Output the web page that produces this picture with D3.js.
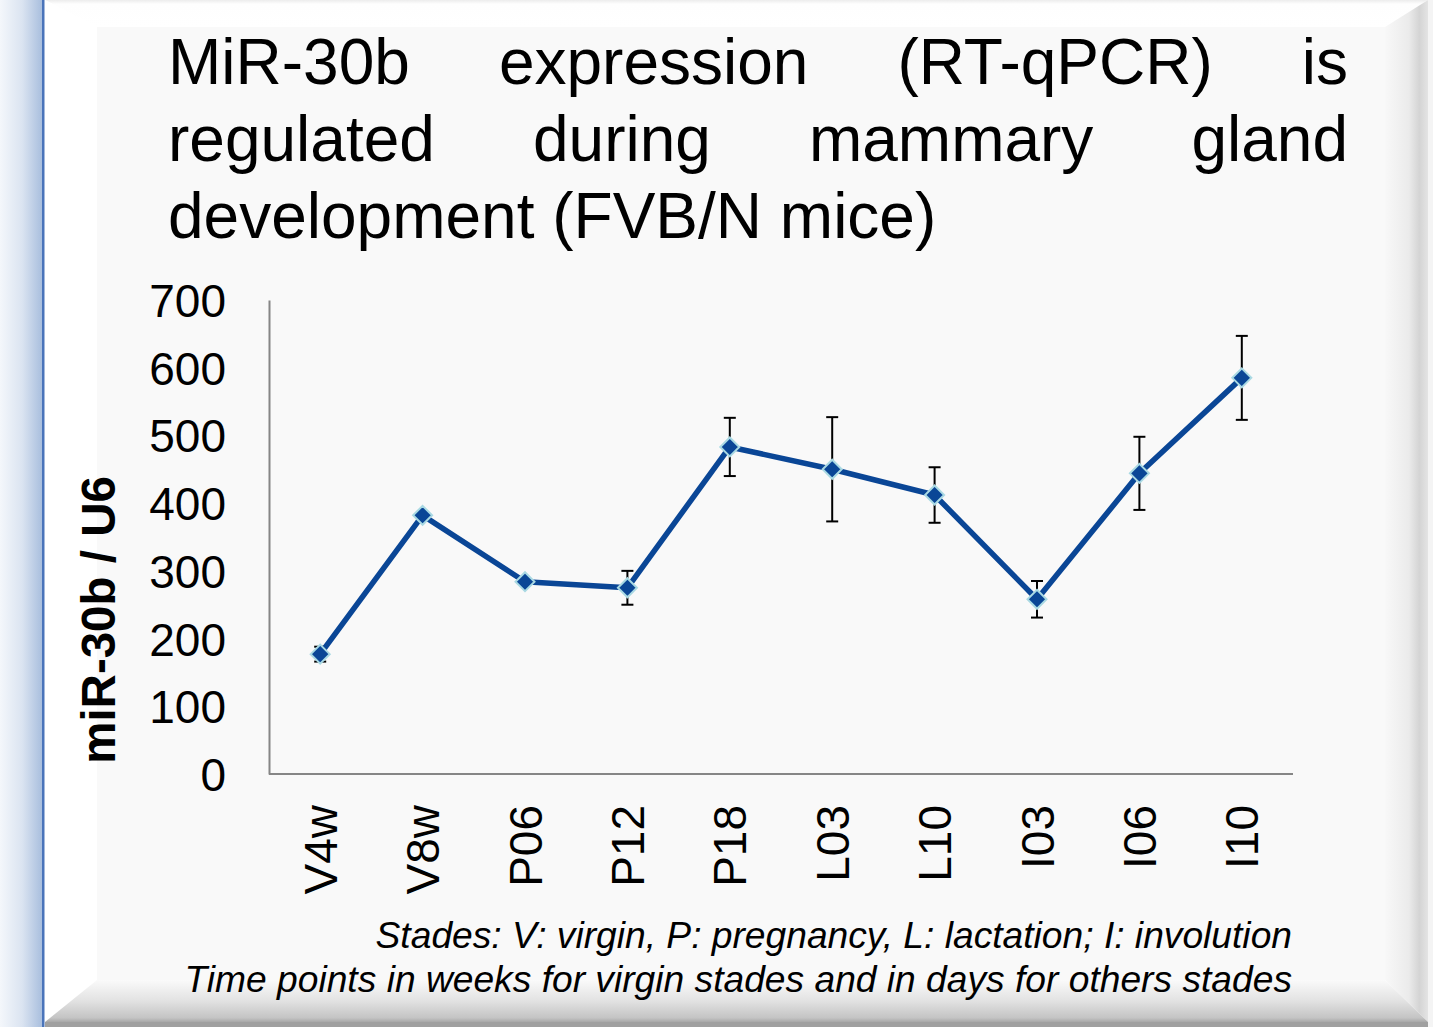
<!DOCTYPE html>
<html><head><meta charset="utf-8">
<script src="https://cdn.jsdelivr.net/npm/d3@7"></script>
<style>html,body{margin:0;padding:0;background:#fff;}svg{display:block;font-family:"Liberation Sans",Arial,sans-serif;}</style>
</head><body>
<svg id="c" width="1433" height="1027"></svg>
<script>
const categories = ["V4w","V8w","P06","P12","P18","L03","L10","I03","I06","I10"];
const values = [177, 382, 284, 275, 483, 450, 412, 258, 444, 585];
const errors = [11, 4, 5, 25, 43, 77, 41, 27, 54, 62];
const yTicks = [0,100,200,300,400,500,600,700];
const titleLines = ["MiR-30b expression (RT-qPCR) is","regulated during mammary gland","development (FVB/N mice)"];
const yLabel = "miR-30b / U6";
const notes = ["Stades: V: virgin, P: pregnancy, L: lactation; I: involution","Time points in weeks for virgin stades and in days for others stades"];

const svg = d3.select("#c");
const defs = svg.append("defs");
function lg(id, x1,y1,x2,y2, stops){
  const g = defs.append("linearGradient").attr("id",id).attr("x1",x1).attr("y1",y1).attr("x2",x2).attr("y2",y2);
  stops.forEach(s=>g.append("stop").attr("offset",s[0]).attr("stop-color",s[1]));
}
lg("lblue",0,0,1,0,[[0,"#f4f7fb"],[0.5,"#dbe4f1"],[1,"#a4bbdc"]]);
lg("rbev",0,0,1,0,[[0,"#f8f8f8"],[0.55,"#ebebeb"],[0.8,"#d4d4d4"],[1,"#e4e4e4"]]);
lg("bbev",0,0,0,1,[[0,"#fafafa"],[0.5,"#e2e2e2"],[0.9,"#c4c4c4"],[1,"#a8a8a8"]]);
lg("tbev",0,0,0,1,[[0,"#ececec"],[0.15,"#fefefe"],[1,"#ffffff"]]);

// frame
svg.append("rect").attr("x",0).attr("y",0).attr("width",44).attr("height",1027).attr("fill","url(#lblue)");
svg.append("rect").attr("x",42).attr("y",0).attr("width",2.5).attr("height",1027).attr("fill","#4a74ba");
svg.append("polygon").attr("points","45,0 1428,0 1385,27 97,27").attr("fill","url(#tbev)");
svg.append("polygon").attr("points","45,0 97,27 97,980 45,1022").attr("fill","#ffffff");
svg.append("polygon").attr("points","1428,0 1428,1022 1385,980 1385,27").attr("fill","url(#rbev)");
svg.append("polygon").attr("points","45,1022 1428,1022 1385,980 97,980").attr("fill","url(#bbev)");
svg.append("rect").attr("x",45).attr("y",1022).attr("width",1388).attr("height",5).attr("fill","#a0a0a0");
svg.append("rect").attr("x",1428).attr("y",0).attr("width",5).attr("height",1027).attr("fill","#f4f4f4");
svg.append("rect").attr("x",97).attr("y",27).attr("width",1288).attr("height",953).attr("fill","#f9f9f9");

// title, justified
const tX0 = 168, tX1 = 1348, tBase = [84,161,238];
titleLines.forEach((line,i)=>{
  const g = svg.append("g");
  if(i < titleLines.length-1){
    const words = line.split(" ");
    const ts = words.map(w=>g.append("text").attr("font-size",64).attr("fill","#000").attr("y",tBase[i]).text(w));
    const widths = ts.map(t=>t.node().getComputedTextLength());
    const gap = (tX1 - tX0 - d3.sum(widths))/(words.length-1);
    let x = tX0;
    ts.forEach((t,j)=>{t.attr("x",x); x += widths[j]+gap;});
  } else {
    g.append("text").attr("font-size",64).attr("x",tX0).attr("y",tBase[i]).text(line);
  }
});

// scales
const x = d3.scaleBand().domain(categories).range([269,1293]);
const y = d3.scaleLinear().domain([0,700]).range([774,300]);

// axes
const yAxis = svg.append("g").attr("transform","translate(269,0)").call(d3.axisLeft(y).tickValues(yTicks).tickSize(0).tickPadding(43));
yAxis.select(".domain").attr("stroke","#868686").attr("stroke-width",2);
yAxis.selectAll("text").attr("font-size",46).attr("fill","#000").attr("font-family","Liberation Sans, Arial, sans-serif").attr("dy","0.36em");

const xAxis = svg.append("g").attr("transform","translate(0,774)").call(d3.axisBottom(x).tickSize(0).tickPadding(0));
xAxis.select(".domain").attr("stroke","#868686").attr("stroke-width",2).attr("d","M269,0H1293");
xAxis.selectAll("text").attr("font-size",46).attr("fill","#000").attr("font-family","Liberation Sans, Arial, sans-serif")
  .attr("transform","rotate(-90)").attr("text-anchor","end").attr("x",-31).attr("y",0).attr("dy","0.36em");

svg.append("text").attr("transform","translate(115,620) rotate(-90)").attr("text-anchor","middle")
  .attr("font-size",47.5).attr("font-weight","bold").attr("fill","#000").text(yLabel);

// error bars
const cx = d => x(d) + x.bandwidth()/2;
const eb = svg.append("g").attr("stroke","#000").attr("stroke-width",2);
categories.forEach((c,i)=>{
  const top = y(values[i]+errors[i]), bot = y(values[i]-errors[i]), xc = cx(c);
  eb.append("line").attr("x1",xc).attr("x2",xc).attr("y1",top).attr("y2",bot);
  eb.append("line").attr("x1",xc-6).attr("x2",xc+6).attr("y1",top).attr("y2",top);
  eb.append("line").attr("x1",xc-6).attr("x2",xc+6).attr("y1",bot).attr("y2",bot);
});

// line
const data = categories.map((c,i)=>({c,v:values[i]}));
svg.append("path").datum(data).attr("fill","none").attr("stroke","#0a4696").attr("stroke-width",5.5).attr("stroke-linejoin","round")
  .attr("d",d3.line().x(d=>cx(d.c)).y(d=>y(d.v)));
svg.append("g").selectAll("path").data(data).join("path")
  .attr("d",d3.symbol().type(d3.symbolDiamond2).size(230))
  .attr("transform",d=>`translate(${cx(d.c)},${y(d.v)})`)
  .attr("fill","#0a4696").attr("stroke","#a9d9e3").attr("stroke-width",2);

// notes
const nb = [948, 992];
notes.forEach((n,i)=>{
  svg.append("text").attr("x",1292).attr("y",nb[i]).attr("text-anchor","end").attr("font-size",37.2).attr("font-style","italic").attr("fill","#000").text(n);
});
</script>
</body></html>
